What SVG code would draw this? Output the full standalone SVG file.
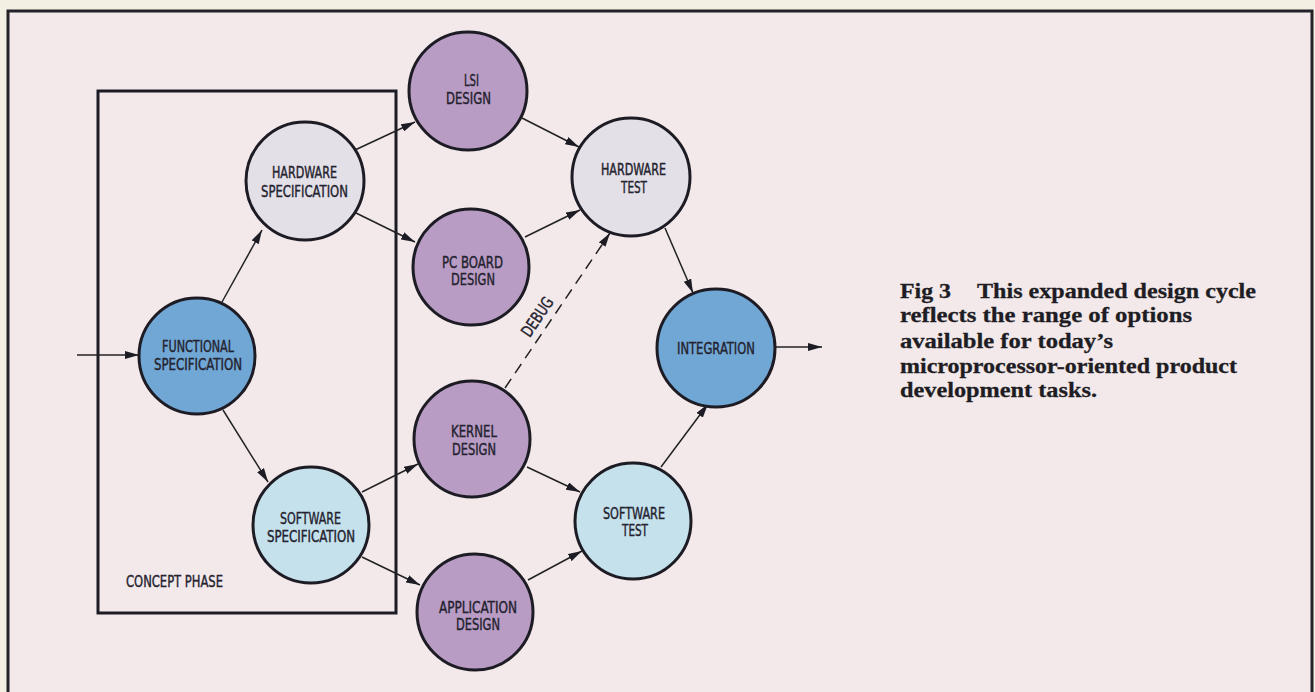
<svg xmlns="http://www.w3.org/2000/svg" width="1315" height="692" viewBox="0 0 1315 692">
<style>
.nd{stroke:#1d1c24;stroke-width:3}
.purple{fill:#b99cc4}
.blue{fill:#71a7d5}
.grey{fill:#e3e0e8}
.lblue{fill:#c5e1ec}
.lbl{font-family:'Liberation Sans Narrow','DejaVu Sans Condensed','Liberation Sans',sans-serif;font-size:16.5px;fill:#23222e;stroke:#23222e;stroke-width:0.4;text-anchor:middle}
.cap{font-family:'Liberation Serif','Times New Roman',serif;font-size:21px;font-weight:bold;fill:#1f1d24;stroke:#1f1d24;stroke-width:0.3}
.ln{stroke:#222;stroke-width:1.5;fill:none;marker-end:url(#ah)}
</style>
<defs>
<marker id="ah" viewBox="0 0 14 8" refX="14" refY="4" markerWidth="14" markerHeight="8" markerUnits="userSpaceOnUse" orient="auto">
<path d="M0,0 L14,4 L0,8 z" fill="#1d1c24"/>
</marker>
</defs>
<rect width="1315" height="692" fill="#f4efe3"/>
<rect id="frame" x="8" y="11" width="1304" height="700" fill="#f3e9ea" stroke="#232228" stroke-width="3"/>
<g id="concept-phase">
<rect x="98" y="91" width="298" height="522" fill="none" stroke="#1d1c24" stroke-width="3"/>
<text class="lbl" x="174.5" y="587" textLength="97" lengthAdjust="spacingAndGlyphs">CONCEPT PHASE</text>
</g>
<g id="connectors">
<line class="ln" x1="77" y1="355" x2="139" y2="355"/>
<line class="ln" x1="222" y1="302" x2="262" y2="230"/>
<line class="ln" x1="223" y1="410" x2="268" y2="482"/>
<line class="ln" x1="355" y1="150" x2="415" y2="122"/>
<line class="ln" x1="356" y1="213" x2="415" y2="242"/>
<line class="ln" x1="362" y1="492" x2="418" y2="464"/>
<line class="ln" x1="362" y1="557" x2="420" y2="585"/>
<line class="ln" x1="522" y1="118" x2="579" y2="147"/>
<line class="ln" x1="525" y1="237" x2="580" y2="210"/>
<line class="ln" x1="665" y1="228" x2="693" y2="293"/>
<line class="ln" x1="505" y1="388" x2="610" y2="233" stroke-dasharray="11,7"/>
<line class="ln" x1="527" y1="467" x2="580" y2="492"/>
<line class="ln" x1="528" y1="580" x2="582" y2="551"/>
<line class="ln" x1="661" y1="467" x2="708" y2="404"/>
<line class="ln" x1="776" y1="347" x2="822" y2="347"/>
<text class="lbl" x="0" y="0" transform="translate(542,320) rotate(-56)" textLength="44" lengthAdjust="spacingAndGlyphs">DEBUG</text>
</g>
<g id="functional-spec">
<circle class="nd blue" cx="197" cy="356" r="58"/>
<text class="lbl" x="198" y="352" textLength="72" lengthAdjust="spacingAndGlyphs">FUNCTIONAL</text>
<text class="lbl" x="198" y="370" textLength="88" lengthAdjust="spacingAndGlyphs">SPECIFICATION</text>
</g>
<g id="hardware-spec">
<circle class="nd grey" cx="305" cy="181" r="59"/>
<text class="lbl" x="304.5" y="178" textLength="65" lengthAdjust="spacingAndGlyphs">HARDWARE</text>
<text class="lbl" x="304.5" y="197" textLength="87" lengthAdjust="spacingAndGlyphs">SPECIFICATION</text>
</g>
<g id="software-spec">
<circle class="nd lblue" cx="311" cy="525" r="58"/>
<text class="lbl" x="310.5" y="524" textLength="61" lengthAdjust="spacingAndGlyphs">SOFTWARE</text>
<text class="lbl" x="311" y="542" textLength="88" lengthAdjust="spacingAndGlyphs">SPECIFICATION</text>
</g>
<g id="lsi-design">
<circle class="nd purple" cx="468" cy="91" r="59"/>
<text class="lbl" x="471.5" y="86" textLength="15" lengthAdjust="spacingAndGlyphs">LSI</text>
<text class="lbl" x="468.5" y="104" textLength="45" lengthAdjust="spacingAndGlyphs">DESIGN</text>
</g>
<g id="pc-board-design">
<circle class="nd purple" cx="471" cy="267" r="58"/>
<text class="lbl" x="472.5" y="268" textLength="61" lengthAdjust="spacingAndGlyphs">PC BOARD</text>
<text class="lbl" x="473" y="285" textLength="44" lengthAdjust="spacingAndGlyphs">DESIGN</text>
</g>
<g id="kernel-design">
<circle class="nd purple" cx="472" cy="439" r="58"/>
<text class="lbl" x="474" y="437" textLength="46" lengthAdjust="spacingAndGlyphs">KERNEL</text>
<text class="lbl" x="474" y="455" textLength="44" lengthAdjust="spacingAndGlyphs">DESIGN</text>
</g>
<g id="application-design">
<circle class="nd purple" cx="475" cy="612" r="58"/>
<text class="lbl" x="478" y="613" textLength="78" lengthAdjust="spacingAndGlyphs">APPLICATION</text>
<text class="lbl" x="478" y="630" textLength="44" lengthAdjust="spacingAndGlyphs">DESIGN</text>
</g>
<g id="hardware-test">
<circle class="nd grey" cx="631" cy="177" r="59"/>
<text class="lbl" x="633.5" y="175" textLength="65" lengthAdjust="spacingAndGlyphs">HARDWARE</text>
<text class="lbl" x="634" y="193" textLength="26" lengthAdjust="spacingAndGlyphs">TEST</text>
</g>
<g id="software-test">
<circle class="nd lblue" cx="633" cy="521" r="58"/>
<text class="lbl" x="634" y="519" textLength="62" lengthAdjust="spacingAndGlyphs">SOFTWARE</text>
<text class="lbl" x="635" y="536" textLength="26" lengthAdjust="spacingAndGlyphs">TEST</text>
</g>
<g id="integration">
<circle class="nd blue" cx="716" cy="348" r="59"/>
<text class="lbl" x="716" y="354" textLength="78" lengthAdjust="spacingAndGlyphs">INTEGRATION</text>
</g>
<g id="caption">
<text class="cap" x="900" y="298" textLength="51" lengthAdjust="spacingAndGlyphs">Fig 3</text>
<text class="cap" x="977" y="298" textLength="279" lengthAdjust="spacingAndGlyphs">This expanded design cycle</text>
<text class="cap" x="900" y="322" textLength="292" lengthAdjust="spacingAndGlyphs">reflects the range of options</text>
<text class="cap" x="900" y="348" textLength="213" lengthAdjust="spacingAndGlyphs">available for today’s</text>
<text class="cap" x="900" y="373" textLength="337" lengthAdjust="spacingAndGlyphs">microprocessor-oriented product</text>
<text class="cap" x="900" y="397" textLength="197" lengthAdjust="spacingAndGlyphs">development tasks.</text>
</g>
</svg>
